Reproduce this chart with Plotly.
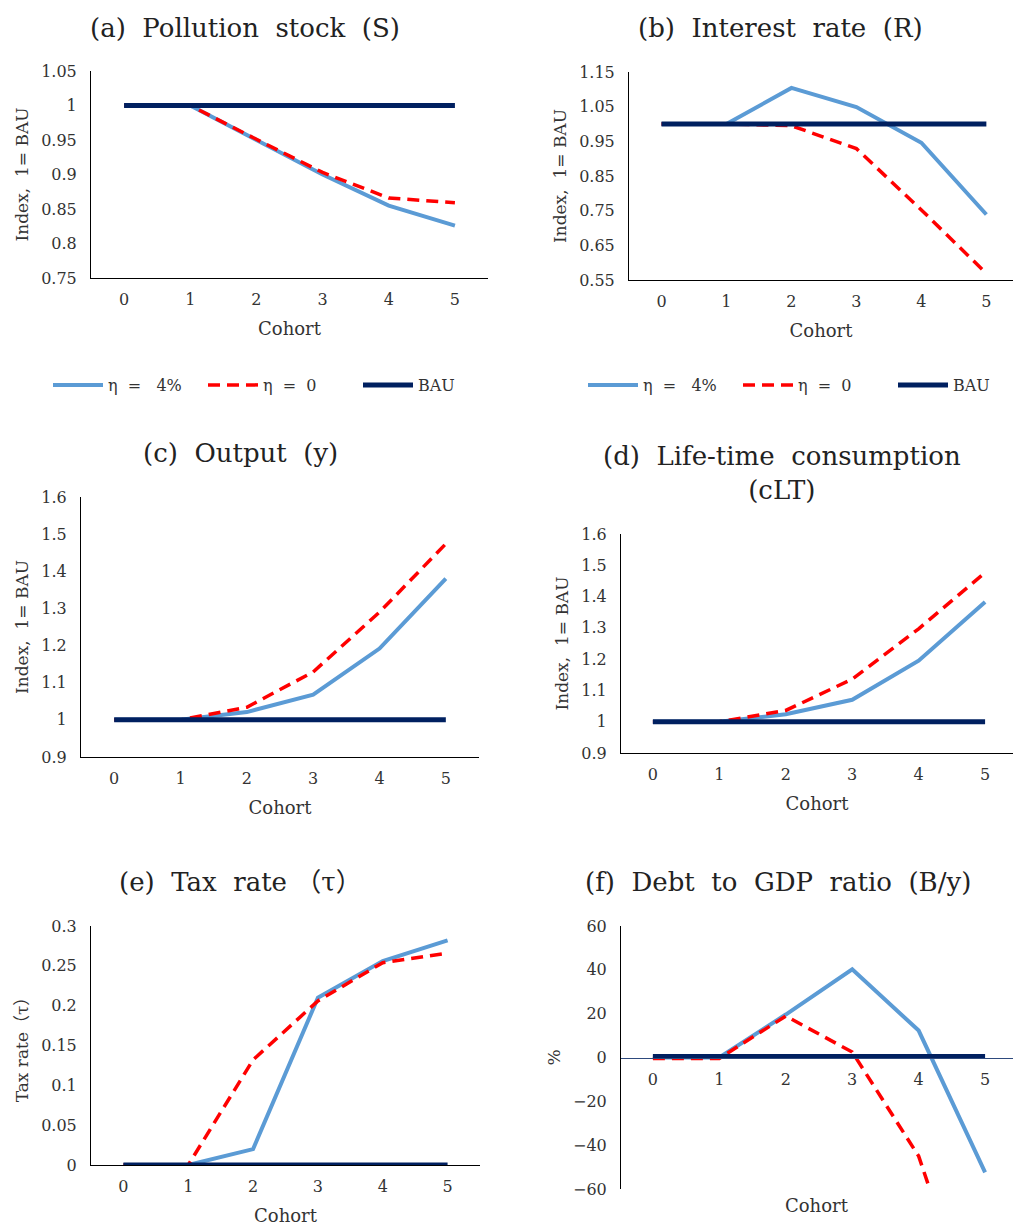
import plotly.graph_objects as go

# ---------------- data ----------------
cohort = [0, 1, 2, 3, 4, 5]

S_eta4 = [1, 1, 0.950, 0.900, 0.855, 0.826]
S_eta0 = [1, 1, 0.951, 0.903, 0.866, 0.859]
S_bau = [1, 1, 1, 1, 1, 1]

R_eta4 = [1, 1, 1.104, 1.049, 0.946, 0.739]
R_eta0 = [1, 1, 0.995, 0.929, 0.752, 0.569]
R_bau = [1, 1, 1, 1, 1, 1]

Y_eta4 = [1, 1, 1.021, 1.068, 1.192, 1.380]
Y_eta0 = [1, 1, 1.034, 1.129, 1.290, 1.474]
Y_bau = [1, 1, 1, 1, 1, 1]

C_eta4 = [1, 1, 1.024, 1.070, 1.195, 1.383]
C_eta0 = [1, 1, 1.036, 1.136, 1.297, 1.477]
C_bau = [1, 1, 1, 1, 1, 1]

T_eta4 = [0, 0, 0.020, 0.210, 0.256, 0.282]
T_eta0 = [0, 0, 0.132, 0.206, 0.254, 0.266]
T_bau = [0, 0, 0, 0, 0, 0]

B_eta4 = [0, 0, 19.6, 40.2, 12.3, -52.4]
B_eta0 = [-0.4, -0.4, 18.9, 2.5, -45.0, -135.0]
B_bau = [0.5, 0.5, 0.5, 0.5, 0.5, 0.5]

NB = "\u00a0"
S2 = NB * 2
names = [f"η{S2}={NB*3}4%", f"η{S2}={S2}0", "BAU"]
titles = [f"(a){S2}Pollution{S2}stock{S2}(S)", f"(b){S2}Interest{S2}rate{S2}(R)",
          f"(c){S2}Output{S2}(y)", f"(d){S2}Life-time{S2}consumption<br>(cLT)",
          f"(e){S2}Tax{S2}rate{NB}（τ）", f"(f){S2}Debt{S2}to{S2}GDP{S2}ratio{S2}(B/y)"]
ytitles = [f"Index,{S2}1={NB}BAU"] * 4 + ["Tax rate（τ）", "%"]

series = [
    (S_eta4, S_eta0, S_bau),
    (R_eta4, R_eta0, R_bau),
    (Y_eta4, Y_eta0, Y_bau),
    (C_eta4, C_eta0, C_bau),
    (T_eta4, T_eta0, T_bau),
    (B_eta4, B_eta0, B_bau),
]

# ---------------- layout geometry (pixels) ----------------
W, H = 1013, 1226
FONT = "DejaVu Serif, Noto Sans CJK SC, serif"
BLUE = "#5B9BD5"
RED = "#FF0000"
NAVY = "#002060"
TXT = "#333333"

# (left, right, top, bottom), x range, y range, dtick, tick0
panels = [
    ((91, 488, 71, 278), [-0.5, 5.5], [0.75, 1.05], 0.05, 0.75),
    ((629, 1013, 72, 280), [-0.5, 5.41], [0.55, 1.15], 0.1, 0.55),
    ((81, 479, 497, 757), [-0.5, 5.5], [0.9, 1.6], 0.1, 0.9),
    ((621, 1013, 534, 753), [-0.48, 5.42], [0.9, 1.6], 0.1, 0.9),
    ((91, 480, 926, 1165), [-0.5, 5.5], [0.0, 0.3], 0.05, 0.0),
    ((621, 1013, 926, 1189), [-0.48, 5.42], [-60, 60], 20, -60),
]
title_pos = [(245, 28), (780, 28), (240, 453), (782, 473), (240, 882), (778, 882)]

fig = go.Figure()
layout = dict(
    width=W, height=H,
    margin=dict(l=0, r=0, t=0, b=0, autoexpand=False),
    paper_bgcolor="white", plot_bgcolor="white",
    font=dict(family=FONT, color=TXT, size=16),
    annotations=[],
)

for i, ((l, r, t, b), xr, yr, dt, t0) in enumerate(panels):
    k = i + 1
    xa = "x" if k == 1 else f"x{k}"
    ya = "y" if k == 1 else f"y{k}"
    e4, e0, bau = series[i]
    leg = "legend2" if k == 2 else "legend"
    show = k in (1, 2)
    common = dict(x=cohort, xaxis=xa, yaxis=ya, mode="lines", cliponaxis=True)
    fig.add_trace(go.Scatter(y=e4, name=names[0], line=dict(color=BLUE, width=4),
                             showlegend=show, legend=leg, **common))
    fig.add_trace(go.Scatter(y=e0, name=names[1],
                             line=dict(color=RED, width=3.5, dash="12px,7px"),
                             showlegend=show, legend=leg, **common))
    fig.add_trace(go.Scatter(y=bau, name=names[2], line=dict(color=NAVY, width=5),
                             showlegend=show, legend=leg, **common))

    xkey = "xaxis" if k == 1 else f"xaxis{k}"
    ykey = "yaxis" if k == 1 else f"yaxis{k}"
    xaxis = dict(
        domain=[l / W, r / W], range=xr, tickmode="array", tickvals=cohort,
        ticktext=[str(c) for c in cohort], automargin=False, ticklabelstandoff=7,
        showgrid=False, zeroline=False, showline=True, linecolor="#000000", linewidth=1,
        ticks="", tickfont=dict(size=16, color=TXT), fixedrange=True,
    )
    yaxis = dict(
        domain=[1 - b / H, 1 - t / H], range=yr, tick0=t0, dtick=dt, automargin=False,
        ticklabelstandoff=10,
        showgrid=False, zeroline=False, showline=True, linecolor="#000000", linewidth=1,
        ticks="", tickfont=dict(size=16, color=TXT), fixedrange=True,
        title=dict(text=ytitles[i], font=dict(size=17, color=TXT), standoff=8),
    )
    if k == 6:
        zero_px = b - (0 - yr[0]) / (yr[1] - yr[0]) * (b - t)
        xaxis.update(anchor="free", position=1 - zero_px / H, linecolor="#2E4A7D")
        yaxis.update(anchor=xa)
        layout["annotations"].append(dict(
            text="Cohort", x=817 / W, y=1 - 1205 / H, xref="paper", yref="paper",
            showarrow=False, font=dict(size=18, color=TXT), xanchor="center", yanchor="middle"))
    else:
        xaxis.update(anchor=ya, title=dict(text="Cohort", font=dict(size=18, color=TXT), standoff=14))
        yaxis.update(anchor=xa)
    layout[xkey] = xaxis
    layout[ykey] = yaxis

    tx, ty = title_pos[i]
    layout["annotations"].append(dict(
        text=titles[i], x=tx / W, y=1 - ty / H, xref="paper", yref="paper",
        showarrow=False, font=dict(size=26, color="#222222"),
        xanchor="center", yanchor="middle"))

legend_common = dict(orientation="h", xanchor="left", yanchor="middle",
                     font=dict(size=16, color=TXT), bgcolor="rgba(0,0,0,0)",
                     itemwidth=50, entrywidth=90, entrywidthmode="pixels")
layout["legend"] = dict(x=48 / W, y=1 - 385 / H, **legend_common)
layout["legend2"] = dict(x=583 / W, y=1 - 385 / H, **legend_common)

fig.update_layout(**layout)
fig.write_html("out.html")
